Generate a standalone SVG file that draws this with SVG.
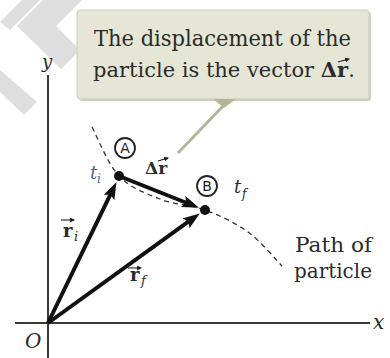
<svg xmlns="http://www.w3.org/2000/svg" width="390" height="358" viewBox="0 0 390 358">
<style>
.wm{fill:#dedede}
.serif{font-family:"DejaVu Serif","Liberation Serif",serif;fill:#2b2b2b}
.it{font-style:italic}
.bd{font-weight:bold}
.vec{stroke:#111;stroke-width:4;fill:none;stroke-linecap:butt}
.small{stroke:#222;stroke-width:1.1;fill:none}
.axis{stroke:#3a3a3a;stroke-width:2;fill:none}
.circ{fill:#fff;stroke:#222;stroke-width:1.8}
.cl{font-family:"DejaVu Sans","Liberation Sans",sans-serif;font-size:14px;fill:#222;text-anchor:middle}
</style>
<defs>
<marker id="ah" markerUnits="userSpaceOnUse" markerWidth="18" markerHeight="14" refX="8" refY="6" orient="auto">
<path d="M0,0 L17,6 L0,12 L3,6 z" fill="#111"/>
</marker>
<marker id="sah" markerUnits="userSpaceOnUse" markerWidth="6" markerHeight="6" refX="4" refY="2.5" orient="auto">
<path d="M0,0 L5,2.5 L0,5 z" fill="#222"/>
</marker>
</defs>
<rect width="390" height="358" fill="#fff"/>
<g id="watermark">
<polygon class="wm" points="22,0 40,0 10,30 0,22"/>
<polygon class="wm" points="43,0 82,0 56,26 80,50 61,69 17,26"/>
<polygon class="wm" points="0,70 37,102 24,115 0,92"/>
</g>
<g id="axes">
<line class="axis" x1="48" y1="75" x2="48" y2="358"/>
<line class="axis" x1="15" y1="323" x2="370" y2="323"/>
<text class="serif it" x="42" y="68" font-size="18">y</text>
<text class="serif it" x="373" y="329" font-size="20">x</text>
<text class="serif it" x="25" y="348" font-size="20">O</text>
</g>
<g id="callout">
<rect x="79" y="12" width="292" height="89" rx="3" fill="#babba4" opacity="0.7"/>
<rect x="77" y="10" width="292" height="89" rx="3" fill="#e5e6d6" stroke="#cdcfba" stroke-width="1"/>
<polygon points="213,99 236,99 224,108" fill="#b4b797"/>
<line x1="224" y1="105" x2="178" y2="153" stroke="#b4b797" stroke-width="3"/>
<text class="serif" x="94" y="46" font-size="22" textLength="257" lengthAdjust="spacingAndGlyphs">The displacement of the</text>
<text class="serif" x="93" y="77" font-size="21">particle is the vector <tspan class="bd">Δr</tspan>.</text>
<line class="small" x1="338" y1="62" x2="349" y2="59" marker-end="url(#sah)"/>
</g>
<g id="path">
<path d="M92,127 C96.5,135.2 107.7,164 119,176 C130.3,188 145.7,193.3 160,199 C174.3,204.7 190.3,204.5 205,210 C219.7,215.5 235.2,222.7 248,232 C260.8,241.3 276.3,260.3 282,266" fill="none" stroke="#333" stroke-width="1.3" stroke-dasharray="5,4"/>
<text class="serif" x="295" y="252" font-size="20" textLength="77" lengthAdjust="spacingAndGlyphs">Path of</text>
<text class="serif" x="294" y="278" font-size="20" textLength="78" lengthAdjust="spacingAndGlyphs">particle</text>
</g>
<g id="connectors">
<line class="vec" x1="48" y1="323" x2="112.5" y2="190.2" marker-end="url(#ah)"/>
<line class="vec" x1="48" y1="323" x2="192.5" y2="218.7" marker-end="url(#ah)"/>
<line class="vec" x1="119" y1="176" x2="190.6" y2="204.5" marker-end="url(#ah)"/>
</g>
<g id="pointA">
<circle cx="119" cy="176" r="5" fill="#111"/>
<circle class="circ" cx="125" cy="148" r="10"/>
<text class="cl" x="125" y="153">A</text>
<text class="serif it" x="90" y="179" font-size="18" style="fill:#4d6a8c">t</text>
<text class="serif it" x="97" y="183" font-size="12" style="fill:#4d6a8c">i</text>
</g>
<g id="pointB">
<circle cx="205" cy="210" r="5" fill="#111"/>
<circle class="circ" cx="207" cy="186" r="10"/>
<text class="cl" x="207" y="191">B</text>
<text class="serif it" x="234" y="193" font-size="18">t</text>
<text class="serif it" x="242" y="198" font-size="12">f</text>
</g>
<g id="labels">
<text class="serif bd" x="145" y="174" font-size="17">Δr</text>
<line class="small" x1="158" y1="161" x2="168" y2="158" marker-end="url(#sah)"/>
<text class="serif bd" x="63" y="237" font-size="18">r</text>
<text class="serif it" x="74" y="241" font-size="13">i</text>
<line class="small" x1="61" y1="220" x2="74" y2="220" marker-end="url(#sah)"/>
<text class="serif bd" x="130" y="281" font-size="18">r</text>
<text class="serif it" x="141" y="285" font-size="13">f</text>
<line class="small" x1="128" y1="268" x2="141" y2="268" marker-end="url(#sah)"/>
</g>
</svg>
